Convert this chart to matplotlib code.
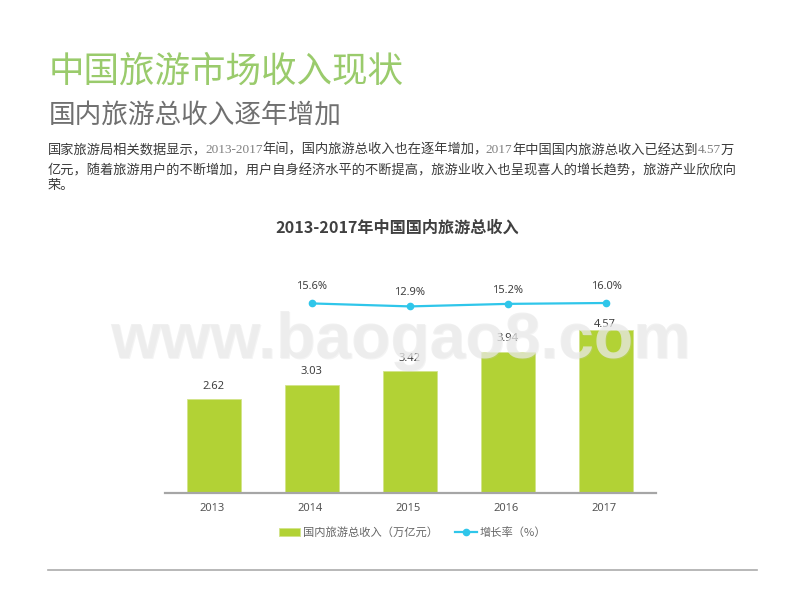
import matplotlib
matplotlib.use("Agg")
import matplotlib.pyplot as plt
from matplotlib.lines import Line2D
from matplotlib.patches import Patch
from matplotlib.transforms import ScaledTranslation

CJK = ['Noto Sans CJK SC', 'DejaVu Sans']
SERIF = ['Liberation Serif', 'Noto Sans CJK SC']
plt.rcParams['font.family'] = CJK

years = ['2013', '2014', '2015', '2016', '2017']
revenue = [2.62, 3.03, 3.42, 3.94, 4.57]
growth_years = ['2014', '2015', '2016', '2017']
growth = [15.6, 12.9, 15.2, 16.0]

title = '中国旅游市场收入现状'
subtitle = '国内旅游总收入逐年增加'
chart_title = '2013-2017年中国国内旅游总收入'
body_lines = [
    ['国家旅游局相关数据显示，', '2013-2017', '年间，国内旅游总收入也在逐年增加，', '2017',
     '年中国国内旅游总收入已经达到', '4.57', '万'],
    ['亿元，随着旅游用户的不断增加，用户自身经济水平的不断提高，旅游业收入也呈现喜人的增长趋势，旅游产业欣欣向'],
    ['荣。'],
]
bar_label_pad = [7, 8, 7, 8, 0]
line_label_pad = [11, 8, 8, 11]

BAR_COLOR = '#B2D235'
LINE_COLOR = '#2FC6EA'

fig = plt.figure(figsize=(8, 6), dpi=100)


def fx(px):
    return px / 800


def fy(py):
    return 1 - py / 600


fig.text(fx(49), fy(72), title, fontsize=25.6, color='#9ACB6C', va='center', fontweight='light')
fig.text(fx(49), fy(115.5), subtitle, fontsize=19.2, color='#707070', va='center', fontweight='light')

# body text mixes CJK and serif digits, so walk along each line
renderer = fig.canvas.get_renderer()
for line, py in zip(body_lines, [150, 171, 185]):
    x = 48
    for part in line:
        fam = SERIF if part[0].isdigit() else CJK
        col = '#808080' if part[0].isdigit() else '#3A3A3A'
        t = fig.text(fx(x), fy(py), part, fontsize=9.5, family=fam, color=col, va='center')
        x = t.get_window_extent(renderer).x1
        if part.endswith('，'):
            x -= 2

fig.text(fx(397), fy(228), chart_title, fontsize=11.6, color='#404040', ha='center', va='center',
         fontweight='bold')

ax = fig.add_axes([fx(165), fy(493), fx(656 - 165), (493 - 280) / 600])
xs = list(range(len(years)))
bars = ax.bar(xs, revenue, width=0.55, color=BAR_COLOR, edgecolor='#D3E48A', linewidth=0.6)
ax.set_xlim(-0.5, 4.51)
ax.set_ylim(0, 5.966)
ax.set_yticks([])
ax.set_xticks(xs)
ax.set_xticklabels(years, fontsize=8, color='#555555', family=['Noto Sans'])
ax.tick_params(axis='x', length=0, pad=7)
# year labels sit a touch left of their bars
nudge = ScaledTranslation(-2 / 100, 0, fig.dpi_scale_trans)
for lab in ax.get_xticklabels():
    lab.set_transform(lab.get_transform() + nudge)
for side in ['top', 'left', 'right']:
    ax.spines[side].set_visible(False)
ax.spines['bottom'].set_color('#A6A6A6')
ax.spines['bottom'].set_linewidth(1.6)
for rect, val, pad in zip(bars, revenue, bar_label_pad):
    ax.annotate(f'{val:.2f}', (rect.get_x() + rect.get_width() / 2 - 0.01, val), xytext=(0, pad),
                textcoords='offset pixels', ha='center', va='bottom', fontsize=8,
                color='#404040', family=['Noto Sans'])

ax2 = ax.twinx()
ax2.set_ylim(-156.7, 36.9)
ax2.axis('off')
gx = [years.index(y) for y in growth_years]
ax2.plot(gx, growth, color=LINE_COLOR, linewidth=1.6, marker='o', markersize=4.5)
for x, val, pad in zip(gx, growth, line_label_pad):
    ax2.annotate(f'{val:.1f}%', (x, val), xytext=(0, pad), textcoords='offset pixels',
                 ha='center', va='bottom', fontsize=8, color='#404040', family=['Noto Sans'])

handles = [Patch(facecolor=BAR_COLOR, edgecolor='#D3E48A', linewidth=0.6),
           Line2D([], [], color=LINE_COLOR, linewidth=1.6, marker='o', markersize=4.5)]
fig.legend(handles, ['国内旅游总收入（万亿元）', '增长率（%）'], loc='center', ncol=2,
           bbox_to_anchor=(fx(412.5), fy(532.5)), frameon=False, fontsize=8.1,
           labelcolor='#666666', handlelength=1.9, handletextpad=0.25, columnspacing=1.55,
           handleheight=0.6)

fig.add_artist(Line2D([fx(48), fx(757)], [fy(570), fy(570)], color='#ABABAB', linewidth=1.2))

# watermark sits over everything, thin enough to read the labels through it
fig.text(fx(401), fy(342), 'www.baogao8.com', fontsize=46.4, family=['Liberation Sans'], fontweight='bold',
         color='#C8C8C8', alpha=0.2, ha='center', va='center', zorder=10)
fig.text(fx(400), fy(341), 'www.baogao8.com', fontsize=46.4, family=['Liberation Sans'], fontweight='bold',
         color='#EBEBEB', alpha=0.7, ha='center', va='center', zorder=11)

fig.savefig('out.png', dpi=100)
